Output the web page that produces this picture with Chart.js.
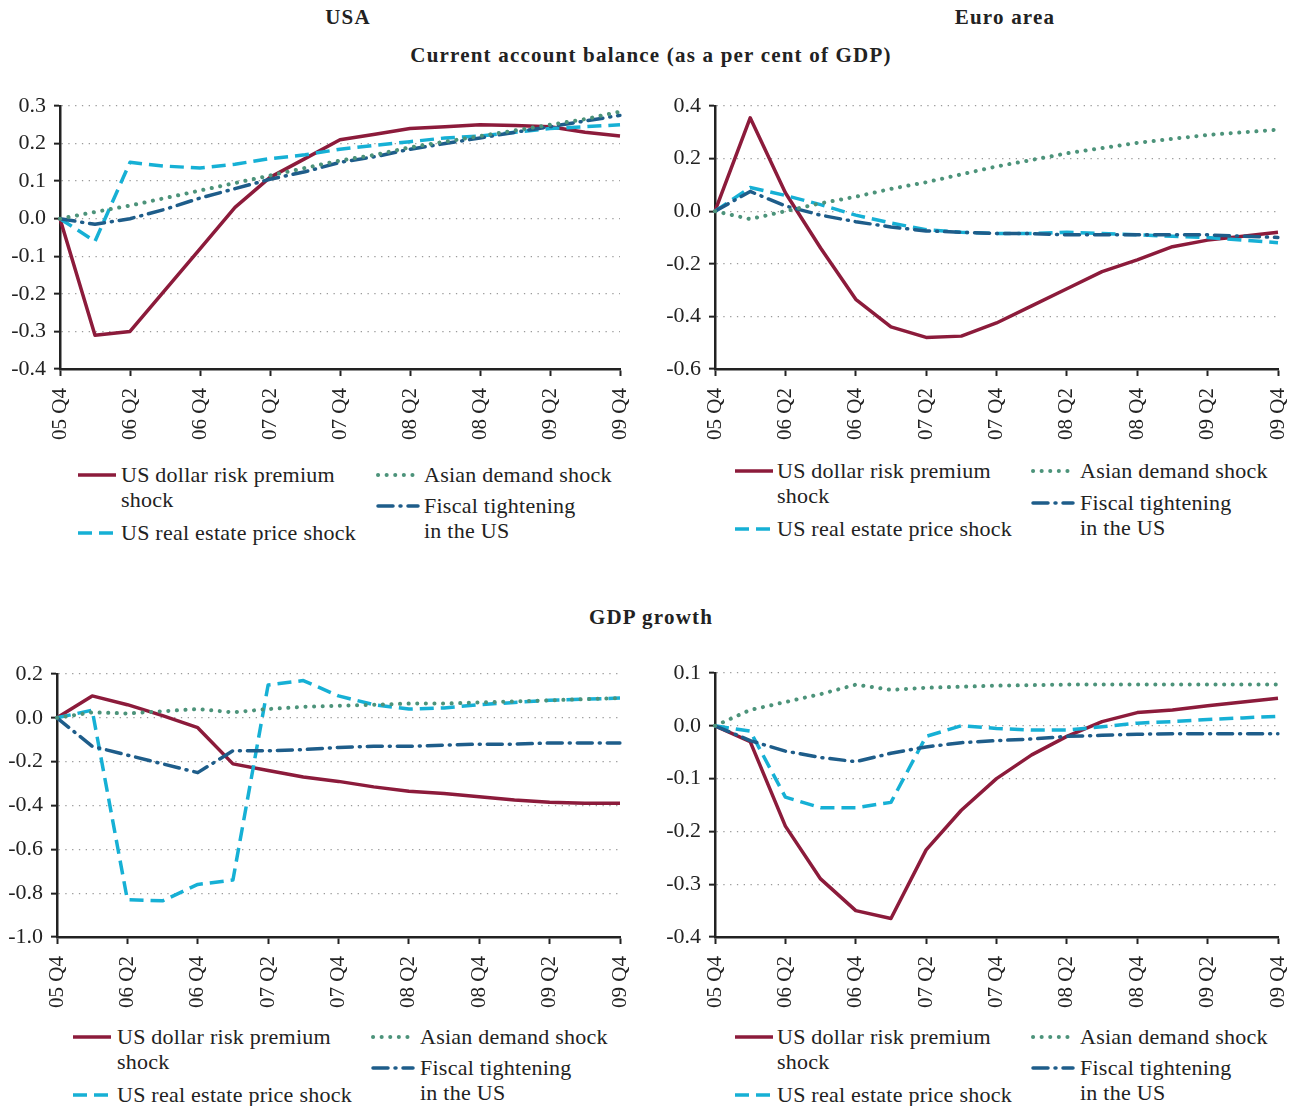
<!DOCTYPE html>
<html>
<head>
<meta charset="utf-8">
<script src="https://cdn.jsdelivr.net/npm/chart.js@4"></script>
<style>
  html,body{margin:0;padding:0;background:#fff;}
  body{width:1300px;height:1106px;position:relative;overflow:hidden;font-family:"Liberation Serif","Times New Roman",serif;color:#222;}
  canvas{position:absolute;}
  .title{position:absolute;font-weight:bold;font-size:21px;letter-spacing:1.2px;transform:translate(-50%,-50%);white-space:nowrap;}
  .leg{position:absolute;font-size:22px;letter-spacing:0.25px;line-height:25px;white-space:nowrap;}
  .sw{position:absolute;}
</style>
</head>
<body>
<div class="title" style="left:348px;top:17px;">USA</div>
<div class="title" style="left:1005px;top:17px;">Euro area</div>
<div class="title" style="left:651px;top:55px;">Current account balance (as a per cent of GDP)</div>
<div class="title" style="left:651px;top:617px;">GDP growth</div>

<canvas id="c1" width="640" height="360" style="left:0;top:96px;"></canvas>
<canvas id="c2" width="650" height="360" style="left:650px;top:96px;"></canvas>
<canvas id="c3" width="640" height="360" style="left:0;top:664px;"></canvas>
<canvas id="c4" width="650" height="361" style="left:650px;top:663px;"></canvas>

<script>
// ---------- data ----------
const quarters = ['05 Q4','06 Q1','06 Q2','06 Q3','06 Q4','07 Q1','07 Q2','07 Q3','07 Q4','08 Q1','08 Q2','08 Q3','08 Q4','09 Q1','09 Q2','09 Q3','09 Q4'];
const seriesNames = ['US dollar risk premium shock','US real estate price shock','Asian demand shock','Fiscal tightening in the US'];

// USA current account balance
const usaCaRiskPremium = [0,-0.31,-0.30,-0.19,-0.08,0.03,0.11,0.16,0.21,0.225,0.24,0.245,0.25,0.248,0.245,0.23,0.22];
const usaCaRealEstate  = [0,-0.06,0.15,0.14,0.135,0.145,0.16,0.17,0.185,0.195,0.205,0.215,0.22,0.23,0.24,0.245,0.25];
const usaCaAsian       = [0,0.018,0.035,0.055,0.075,0.095,0.115,0.135,0.155,0.17,0.19,0.205,0.22,0.235,0.25,0.265,0.285];
const usaCaFiscal      = [0,-0.015,0.0,0.025,0.055,0.08,0.105,0.125,0.15,0.165,0.185,0.2,0.215,0.23,0.245,0.26,0.275];

// Euro area current account balance
const euCaRiskPremium = [0,0.355,0.07,-0.14,-0.335,-0.44,-0.48,-0.475,-0.425,-0.36,-0.295,-0.23,-0.185,-0.135,-0.11,-0.095,-0.08];
const euCaRealEstate  = [0,0.09,0.06,0.025,-0.015,-0.045,-0.07,-0.08,-0.085,-0.085,-0.08,-0.085,-0.09,-0.095,-0.1,-0.11,-0.12];
const euCaAsian       = [0,-0.03,0.0,0.03,0.055,0.085,0.11,0.14,0.17,0.195,0.22,0.24,0.26,0.275,0.29,0.3,0.31];
const euCaFiscal      = [0,0.075,0.02,-0.015,-0.04,-0.06,-0.075,-0.08,-0.085,-0.085,-0.09,-0.09,-0.09,-0.09,-0.09,-0.095,-0.1];

// USA GDP growth
const usaGdpRiskPremium = [0,0.1,0.06,0.01,-0.045,-0.21,-0.24,-0.27,-0.29,-0.315,-0.335,-0.345,-0.36,-0.375,-0.385,-0.39,-0.39];
const usaGdpRealEstate  = [0,0.035,-0.83,-0.835,-0.76,-0.74,0.15,0.17,0.1,0.06,0.04,0.045,0.06,0.07,0.08,0.085,0.09];
const usaGdpAsian       = [0,0.025,0.02,0.03,0.04,0.025,0.04,0.05,0.055,0.06,0.065,0.065,0.07,0.075,0.08,0.085,0.09];
const usaGdpFiscal      = [0,-0.13,-0.17,-0.21,-0.25,-0.15,-0.15,-0.145,-0.135,-0.13,-0.13,-0.125,-0.12,-0.12,-0.115,-0.115,-0.115];

// Euro area GDP growth
const euGdpRiskPremium = [0,-0.03,-0.19,-0.29,-0.35,-0.365,-0.235,-0.16,-0.1,-0.055,-0.02,0.008,0.025,0.03,0.038,0.045,0.052];
const euGdpRealEstate  = [0,-0.01,-0.135,-0.155,-0.155,-0.145,-0.02,0.0,-0.005,-0.008,-0.008,-0.002,0.005,0.008,0.012,0.015,0.018];
const euGdpAsian       = [0,0.03,0.045,0.06,0.078,0.068,0.072,0.074,0.076,0.077,0.078,0.078,0.078,0.078,0.078,0.078,0.078];
const euGdpFiscal      = [0,-0.028,-0.048,-0.06,-0.068,-0.052,-0.04,-0.032,-0.028,-0.025,-0.02,-0.018,-0.016,-0.015,-0.015,-0.015,-0.015];

// ---------- styles ----------
const RED = '#8C1B3B', CYAN = '#16B0D5', GREEN = '#4C937A', BLUE = '#1E5D8A';
const styles = [
  {color: RED,   dash: [],            width: 3.5, cap: 'butt'},
  {color: CYAN,  dash: [14, 7],       width: 3.5, cap: 'butt'},
  {color: GREEN, dash: [0.1, 8.5],    width: 4,   cap: 'round'},
  {color: BLUE,  dash: [15, 7, 1, 7], width: 3.5, cap: 'round'}
];

function makeChart(id, data, yMin, yMax, step, yWidth, padRight) {
  const order = [2, 3, 1, 0];
  const datasets = order.map(i => ({
    label: seriesNames[i],
    data: data[i],
    borderColor: styles[i].color,
    borderWidth: styles[i].width,
    borderDash: styles[i].dash,
    borderCapStyle: styles[i].cap,
    borderJoinStyle: 'round',
    pointRadius: 0,
    tension: 0,
    fill: false
  }));
  new Chart(document.getElementById(id), {
    type: 'line',
    data: {labels: quarters, datasets},
    options: {
      responsive: false,
      animation: false,
      layout: {padding: {top: 10, right: padRight, left: 0, bottom: 0}},
      plugins: {legend: {display: false}, tooltip: {enabled: false}},
      scales: {
        x: {
          type: 'category',
          offset: false,
          afterFit: s => { s.height = 87; s.paddingLeft = 0; s.paddingRight = 0; },
          grid: {
            drawOnChartArea: false,
            drawTicks: true,
            tickLength: 7,
            tickWidth: 2,
            tickColor: ctx => (ctx.index % 2 === 0 ? '#222' : 'rgba(0,0,0,0)')
          },
          border: {display: true, color: '#222', width: 2.5},
          ticks: {
            autoSkip: false,
            minRotation: 90,
            maxRotation: 90,
            padding: 12,
            color: '#222',
            font: {family: '"Liberation Serif", serif', size: 21},
            callback: function(v, i) { return i % 2 === 0 ? this.getLabelForValue(v) : ''; }
          }
        },
        y: {
          min: yMin, max: yMax,
          afterFit: s => { s.width = yWidth; s.paddingTop = 0; s.paddingBottom = 0; },
          grid: {
            color: '#9a9a9a',
            lineWidth: 1.3,
            tickLength: 6,
            tickWidth: 2,
            tickColor: '#222',
            tickBorderDash: []
          },
          border: {display: true, color: '#222', width: 2.5, dash: [1.3, 5.5]},
          ticks: {
            stepSize: step,
            padding: 8,
            color: '#222',
            font: {family: '"Liberation Serif", serif', size: 22},
            callback: v => (Math.abs(v) < 1e-9 ? 0 : Number(v)).toFixed(1)
          }
        }
      }
    }
  });
}

makeChart('c1', [usaCaRiskPremium, usaCaRealEstate, usaCaAsian, usaCaFiscal], -0.4, 0.3, 0.1, 60, 20);
makeChart('c2', [euCaRiskPremium, euCaRealEstate, euCaAsian, euCaFiscal], -0.6, 0.4, 0.2, 65, 22);
makeChart('c3', [usaGdpRiskPremium, usaGdpRealEstate, usaGdpAsian, usaGdpFiscal], -1.0, 0.2, 0.2, 57, 20);
makeChart('c4', [euGdpRiskPremium, euGdpRealEstate, euGdpAsian, euGdpFiscal], -0.4, 0.1, 0.1, 65, 22);

// ---------- legends (HTML) ----------
const legendLines = [
  ['US dollar risk premium', 'shock'],
  ['US real estate price shock'],
  ['Asian demand shock'],
  ['Fiscal tightening', 'in the US']
];
function swatch(x, y, w, st) {
  const ns = 'http://www.w3.org/2000/svg';
  const svg = document.createElementNS(ns, 'svg');
  svg.setAttribute('width', w + 4); svg.setAttribute('height', 10);
  svg.setAttribute('class', 'sw');
  svg.style.left = (x - 2) + 'px'; svg.style.top = (y - 5) + 'px';
  const l = document.createElementNS(ns, 'line');
  l.setAttribute('x1', 2); l.setAttribute('x2', w + 2);
  l.setAttribute('y1', 5); l.setAttribute('y2', 5);
  l.setAttribute('stroke', st.color); l.setAttribute('stroke-width', st.width);
  l.setAttribute('stroke-linecap', st.cap);
  if (st.dash.length) l.setAttribute('stroke-dasharray', st.dash.join(' '));
  svg.appendChild(l);
  document.body.appendChild(svg);
}
function legendItem(i, sx, sw, tx, cy) {
  swatch(sx, cy, sw, styles[i]);
  const d = document.createElement('div');
  d.className = 'leg';
  d.style.left = tx + 'px';
  d.style.top = (cy - 13) + 'px';
  d.innerHTML = legendLines[i].join('<br>');
  document.body.appendChild(d);
}
function legend(lx, ltx, rx, rtx, y1, y2L, y2R) {
  legendItem(0, lx, 38, ltx, y1);
  legendItem(1, lx, 38, ltx, y2L);
  legendItem(2, rx, 40, rtx, y1);
  legendItem(3, rx, 40, rtx, y2R);
}
legend(78, 121, 378, 424, 475, 533, 506);
legend(735, 777, 1033, 1080, 471, 529, 503);
legend(73, 117, 373, 420, 1037, 1095, 1068);
legend(735, 777, 1033, 1080, 1037, 1095, 1068);
</script>
</body>
</html>
